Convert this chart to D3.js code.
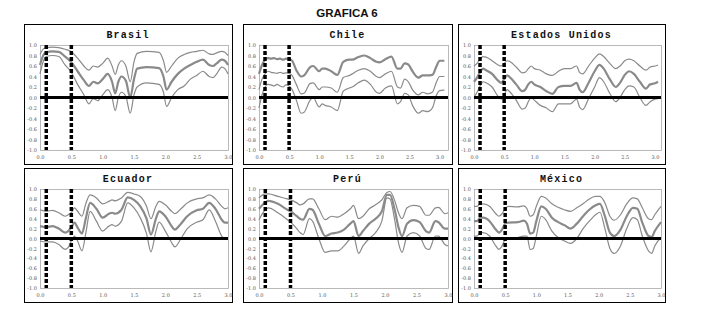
<!DOCTYPE html>
<html>
<head>
<meta charset="utf-8">
<script src="https://cdn.jsdelivr.net/npm/d3@7"></script>
<style>
  html, body { margin: 0; padding: 0; background: #fff; }
  svg { display: block; }
</style>
</head>
<body>
<svg id="chart" width="704" height="323"></svg>
<script>
// ---- Data ----------------------------------------------------------------
const chartTitle = "GRAFICA 6";
const countries = ["Brasil", "Chile", "Estados Unidos", "Ecuador", "Perú", "México"];
const xTicks = [0, 0.5, 1, 1.5, 2, 2.5, 3];
const yTicks = [-1, -0.8, -0.6, -0.4, -0.2, 0, 0.2, 0.4, 0.6, 0.8, 1];
const markers = [0.1, 0.5];

const brasilX   = [0, .05, .1, .2, .3, .4, .5, .6, .7, .78, .85, .92, 1.0, 1.08, 1.15, 1.2, 1.25, 1.3, 1.37, 1.44, 1.5, 1.55, 1.7, 1.9, 1.97, 2.02, 2.1, 2.2, 2.3, 2.4, 2.5, 2.6, 2.7, 2.76, 2.82, 2.9, 2.95, 3.0];
const brasilMid = [.62, .8, .86, .88, .87, .78, .67, .5, .33, .22, .3, .27, .35, .45, .3, .08, .3, .4, .32, .0, .35, .55, .58, .56, .4, .15, .3, .45, .55, .62, .68, .72, .62, .6, .65, .72, .7, .62];
const brasilUp  = [.82, .92, .95, .96, .95, .92, .87, .75, .6, .52, .6, .58, .65, .75, .6, .44, .62, .7, .6, .3, .68, .84, .88, .86, .7, .48, .6, .75, .82, .86, .88, .9, .83, .82, .85, .88, .86, .8];
const brasilLow = [.45, .68, .78, .8, .78, .62, .48, .25, .05, -.12, -.02, -.06, .05, .15, .0, -.25, .0, .1, .02, -.3, .05, .2, .28, .25, .1, -.17, .0, .15, .22, .35, .42, .5, .4, .38, .45, .58, .55, .45];

const chileX   = [0, .05, .1, .15, .2, .25, .3, .35, .4, .45, .5, .55, .62, .7, .75, .85, .9, 1.0, 1.05, 1.1, 1.2, 1.3, 1.4, 1.5, 1.55, 1.65, 1.75, 1.85, 1.95, 2.0, 2.1, 2.2, 2.3, 2.35, 2.42, 2.48, 2.55, 2.65, 2.72, 2.8, 2.88, 2.95, 3.0, 3.08];
const chileUp  = [.45, .62, .72, .75, .74, .75, .73, .74, .72, .74, .73, .7, .52, .4, .42, .58, .6, .5, .55, .55, .5, .43, .68, .72, .72, .77, .8, .75, .68, .67, .73, .78, .55, .55, .65, .63, .5, .38, .42, .42, .43, .6, .7, .7];
const chileMid = [.15, .35, .45, .5, .48, .47, .46, .48, .46, .47, .46, .42, .25, .07, .08, .27, .28, .15, .2, .2, .18, .1, .38, .42, .45, .52, .55, .5, .4, .38, .45, .5, .2, .18, .35, .3, .15, .05, .1, .07, .1, .3, .4, .4];
const chileLow = [-.2, .05, .2, .25, .24, .22, .25, .22, .2, .24, .22, .15, -.05, -.3, -.28, -.05, .0, -.18, -.12, -.15, -.18, -.25, .12, .18, .2, .28, .33, .25, .1, .08, .18, .22, -.12, -.08, .08, .05, -.15, -.3, -.25, -.27, -.2, .05, .13, .14];

const eeuuX   = [0, .05, .1, .15, .2, .3, .4, .45, .5, .55, .6, .7, .8, .85, .9, .95, 1.0, 1.1, 1.2, 1.3, 1.4, 1.5, 1.6, 1.7, 1.75, 1.8, 1.9, 2.0, 2.08, 2.15, 2.25, 2.35, 2.42, 2.5, 2.57, 2.65, 2.75, 2.85, 2.92, 3.0, 3.05];
const eeuuUp  = [.6, .65, .73, .78, .77, .7, .62, .6, .65, .7, .68, .58, .47, .48, .55, .6, .55, .52, .45, .42, .5, .55, .55, .6, .48, .45, .6, .75, .83, .78, .65, .55, .6, .7, .73, .7, .6, .52, .58, .6, .62];
const eeuuMid = [.3, .38, .48, .55, .52, .45, .32, .28, .35, .42, .38, .25, .12, .15, .25, .3, .25, .2, .12, .07, .2, .22, .22, .28, .15, .1, .28, .5, .62, .55, .35, .2, .28, .43, .5, .45, .3, .17, .25, .27, .3];
const eeuuLow = [.0, .1, .22, .3, .28, .2, .02, -.03, .05, .15, .1, -.05, -.22, -.2, -.08, .0, -.05, -.15, -.2, -.27, -.12, -.12, -.12, -.03, -.18, -.23, -.02, .2, .38, .3, .08, -.08, .0, .15, .22, .2, .0, -.15, -.08, -.03, -.02];

const ecuadorX   = [0, .1, .2, .3, .4, .45, .5, .55, .6, .67, .73, .8, .9, 1.0, 1.1, 1.15, 1.2, 1.3, 1.4, 1.5, 1.6, 1.7, 1.77, 1.85, 1.9, 2.0, 2.1, 2.15, 2.25, 2.35, 2.5, 2.6, 2.7, 2.8, 2.9, 2.95, 3.0];
const ecuadorUp  = [.58, .55, .57, .52, .45, .48, .52, .62, .55, .45, .7, .88, .82, .7, .75, .78, .76, .82, .93, .9, .85, .65, .4, .65, .75, .68, .55, .5, .6, .72, .8, .82, .88, .8, .65, .6, .62];
const ecuadorMid = [.25, .23, .25, .2, .12, .15, .23, .32, .22, .1, .4, .72, .6, .42, .5, .52, .5, .58, .83, .78, .65, .4, .08, .4, .55, .45, .25, .18, .3, .45, .57, .6, .72, .6, .38, .32, .32];
const ecuadorLow = [-.05, -.07, -.07, -.12, -.22, -.18, -.05, .05, -.05, -.25, .1, .55, .35, .15, .25, .28, .25, .35, .72, .62, .42, .1, -.27, .15, .33, .15, -.08, -.17, .0, .2, .33, .38, .58, .35, .05, .0, .02];

const peruX   = [0, .1, .15, .3, .45, .5, .6, .65, .7, .8, .85, .95, 1.05, 1.15, 1.25, 1.35, 1.45, 1.5, 1.58, 1.65, 1.75, 1.85, 1.95, 2.03, 2.08, 2.15, 2.22, 2.27, 2.35, 2.45, 2.55, 2.65, 2.7, 2.8, 2.85, 2.95, 3.0];
const peruUp  = [.82, .9, .9, .85, .8, .78, .72, .68, .7, .8, .8, .6, .38, .45, .43, .5, .6, .67, .4, .45, .6, .68, .78, .93, .95, .78, .5, .4, .62, .67, .65, .47, .47, .62, .63, .5, .52];
const peruMid = [.6, .73, .76, .7, .58, .55, .45, .4, .38, .6, .58, .3, .05, .1, .12, .18, .3, .35, .05, .15, .3, .4, .55, .88, .88, .6, .2, .05, .3, .37, .33, .15, .12, .35, .33, .2, .2];
const peruLow = [.38, .58, .62, .52, .38, .33, .2, .12, .08, .4, .35, .0, -.28, -.25, -.25, -.15, .0, .05, -.3, -.15, .0, .12, .35, .82, .8, .4, -.12, -.28, .05, .12, .05, -.2, -.22, .05, .05, -.12, -.15];

const mexicoX   = [0, .05, .1, .15, .25, .35, .4, .45, .5, .55, .7, .8, .85, .9, .95, 1.0, 1.08, 1.15, 1.25, 1.35, 1.45, 1.55, 1.65, 1.75, 1.85, 1.95, 2.02, 2.1, 2.18, 2.25, 2.35, 2.45, 2.55, 2.62, 2.7, 2.8, 2.85, 2.9, 3.0];
const mexicoUp  = [.65, .65, .7, .7, .65, .5, .45, .5, .6, .65, .64, .66, .6, .45, .48, .65, .85, .82, .7, .63, .58, .55, .62, .7, .8, .85, .85, .72, .45, .37, .48, .7, .82, .8, .62, .4, .38, .48, .65];
const mexicoMid = [.35, .35, .42, .42, .35, .18, .12, .18, .3, .32, .33, .36, .3, .1, .12, .35, .65, .6, .42, .33, .27, .2, .3, .45, .58, .67, .7, .45, .12, .05, .18, .45, .62, .6, .32, .05, .03, .15, .33];
const mexicoLow = [.05, .05, .12, .12, .05, -.15, -.22, -.15, -.02, .0, .02, .05, .05, -.22, -.2, .05, .45, .38, .15, .02, -.05, -.1, .0, .2, .35, .48, .53, .2, -.2, -.3, -.15, .2, .42, .38, .05, -.25, -.3, -.15, .02];

// ---- Panel setup -----------------------------------------------------------
const seriesByCountry = [
  { x: brasilX,  up: brasilUp,  mid: brasilMid,  low: brasilLow },
  { x: chileX,   up: chileUp,   mid: chileMid,   low: chileLow },
  { x: eeuuX,    up: eeuuUp,    mid: eeuuMid,    low: eeuuLow },
  { x: ecuadorX, up: ecuadorUp, mid: ecuadorMid, low: ecuadorLow },
  { x: peruX,    up: peruUp,    mid: peruMid,    low: peruLow },
  { x: mexicoX,  up: mexicoUp,  mid: mexicoMid,  low: mexicoLow }
];

// box geometry and x extent per panel
const colX = [24, 243, 458], colW = [208, 209, 207];
const rowY = [24, 168], rowH = [140, 134];
const xMax = [3.0, 3.14, 3.1, 3.0, 3.0, 3.0];
const heavy = ["mid", "up", "mid", "mid", "mid", "mid"];
const inset = { l: 16, r: 4, t: 21, b: 14 };

const svg = d3.select("#chart");
const fmt = d => d3.format(".1f")(d).replace("\u2212", "-");

svg.append("text")
  .attr("x", 347).attr("y", 17)
  .attr("text-anchor", "middle")
  .attr("font-family", "Liberation Sans, Arial, sans-serif")
  .attr("font-weight", "bold")
  .attr("font-size", 11.5)
  .attr("fill", "#111")
  .text(chartTitle);

countries.forEach((name, i) => {
  const c = i % 3, r = Math.floor(i / 3);
  const bx = colX[c], by = rowY[r], bw = colW[c], bh = rowH[r];
  const s = seriesByCountry[i];

  const g = svg.append("g");
  g.append("rect")
    .attr("x", bx + 0.5).attr("y", by + 0.5)
    .attr("width", bw).attr("height", bh)
    .attr("fill", "#fff").attr("stroke", "#000").attr("stroke-width", 1);

  const x0 = bx + inset.l, x1 = bx + bw - inset.r;
  const y0 = by + inset.t, y1 = by + bh - inset.b;

  const xs = d3.scaleLinear().domain([0, xMax[i]]).range([x0, x1]);
  const ys = d3.scaleLinear().domain([-1, 1]).range([y1, y0]);

  g.append("rect")
    .attr("x", x0 + 0.5).attr("y", y0 + 0.5)
    .attr("width", x1 - x0).attr("height", y1 - y0)
    .attr("fill", "none").attr("stroke", "#a8a8a8").attr("stroke-width", 0.8);

  g.append("text")
    .attr("x", bx + bw / 2).attr("y", by + 14)
    .attr("text-anchor", "middle")
    .attr("font-family", "Liberation Mono, Courier New, monospace")
    .attr("font-weight", "bold")
    .attr("font-size", 10)
    .attr("letter-spacing", 1.2)
    .attr("fill", "#111")
    .text(name);

  const yAxis = g.append("g")
    .attr("transform", `translate(${x0},0)`)
    .call(d3.axisLeft(ys).tickValues(yTicks).tickFormat(fmt).tickSize(0).tickPadding(3));
  const xAxis = g.append("g")
    .attr("transform", `translate(0,${y1})`)
    .call(d3.axisBottom(xs).tickValues(xTicks).tickFormat(fmt).tickSize(0).tickPadding(5));
  [yAxis, xAxis].forEach(a => {
    a.select(".domain").remove();
    a.selectAll("text")
      .attr("font-family", "DejaVu Serif, serif")
      .attr("font-size", 5)
      .attr("fill", "#555");
  });

  // confidence band and estimate
  ["up", "mid", "low"].forEach(k => {
    const pts = s.x.map((xv, j) => [xv, s[k][j]]);
    g.append("path")
      .datum(pts)
      .attr("fill", "none")
      .attr("stroke", "#8a8a8a")
      .attr("stroke-width", heavy[i] === k ? 2.2 : 1.2)
      .attr("stroke-linejoin", "round")
      .attr("d", d3.line().x(d => xs(d[0])).y(d => ys(d[1])).curve(d3.curveMonotoneX));
  });

  // zero reference line
  g.append("line")
    .attr("x1", x0).attr("x2", x1)
    .attr("y1", ys(0)).attr("y2", ys(0))
    .attr("stroke", "#000").attr("stroke-width", 3);

  // vertical markers
  markers.forEach(m => {
    g.append("line")
      .attr("x1", xs(m)).attr("x2", xs(m))
      .attr("y1", ys(1)).attr("y2", ys(-1))
      .attr("stroke", "#000").attr("stroke-width", 3.5)
      .attr("stroke-dasharray", "4,2");
  });
});
</script>
</body>
</html>
